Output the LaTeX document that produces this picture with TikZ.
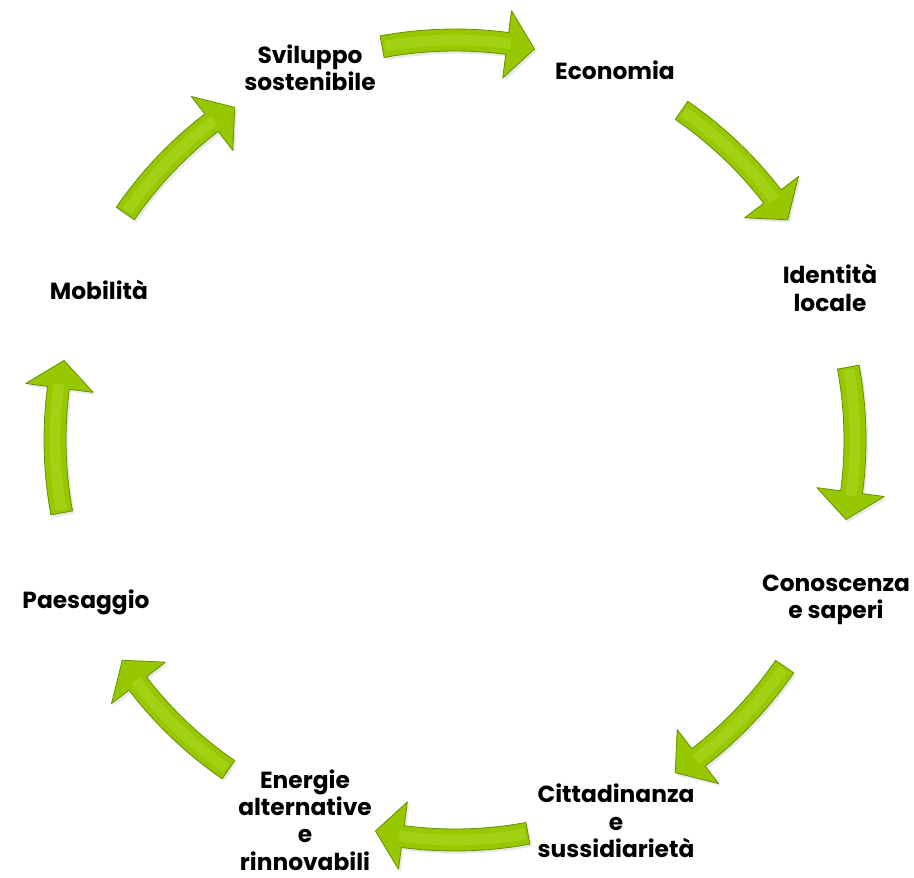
\documentclass[tikz,border=0pt]{standalone}
\usepackage{fontspec}
\setmainfont{Poppins}
\usetikzlibrary{shadows}

\definecolor{arrowgreen}{RGB}{150,200,0}
\definecolor{arrowedge}{RGB}{104,142,0}
\definecolor{arrowshine}{RGB}{180,224,45}

\tikzset{every picture/.style={line width=0.75pt}}
\tikzset{
  greenarrow/.style={fill=arrowgreen, draw=arrowedge, line width=0.6pt, line join=round,
    drop shadow={opacity=0.18, shadow xshift=1.5pt, shadow yshift=-2pt}},
  shinestripe/.style={draw=arrowshine, line width=8pt, draw opacity=0.45},
  cyclelabel/.style={align=center, inner sep=0pt, font=\fontsize{17.5}{20.5}\selectfont\bfseries}
}

% curved block arrow round the centre: #1 tail angle, #2 tip angle
\newcommand{\cyclearrow}[2]{%
  \draw[greenarrow] (#1:411) arc[start angle=#1, end angle={#2+4}, radius=411]
    -- ({#2+4}:433) -- (#2:399) -- ({#2+4}:365) -- ({#2+4}:389)
    arc[start angle={#2+4}, end angle=#1, radius=389] -- cycle;
  \draw[shinestripe] ({#1-0.4}:400) arc[start angle={#1-0.4}, end angle={#2+3.5}, radius=400];}

\begin{document}
\begin{tikzpicture}[x=0.75pt,y=0.75pt,yscale=-1,xscale=1]
\useasboundingbox (0,0) rectangle (914,878);

%Centre of the cycle
\coordinate (centre) at (455,440);

%Curved Arrows
\begin{scope}[shift={(centre)}, yscale=-1]
  \cyclearrow{100.5}{78.5}
  \cyclearrow{55.5}{33.5}
  \cyclearrow{10.5}{-11.5}
  \cyclearrow{-34.5}{-56.5}
  \cyclearrow{-79.5}{-101.5}
  \cyclearrow{-124.5}{-146.5}
  \cyclearrow{190.5}{168.5}
  \cyclearrow{145.5}{123.5}
\end{scope}

%Labels
\node[cyclelabel] (sviluppo) at (310,68) {Sviluppo\\sostenibile};
\node[cyclelabel] (economia) at (615,70) {Economia};
\node[cyclelabel] (identita) at (830,288) {Identità\\locale};
\node[cyclelabel] (conoscenza) at (836,600) {Conoscenza\\e saperi};
\node[cyclelabel] (cittadinanza) at (616,821) {Cittadinanza\\e\\sussidiarietà};
\node[cyclelabel] (energie) at (305,820) {Energie\\alternative\\e\\rinnovabili};
\node[cyclelabel] (paesaggio) at (86,602) {Paesaggio};
\node[cyclelabel] (mobilita) at (99,290) {Mobilità};
\end{tikzpicture}
\end{document}
